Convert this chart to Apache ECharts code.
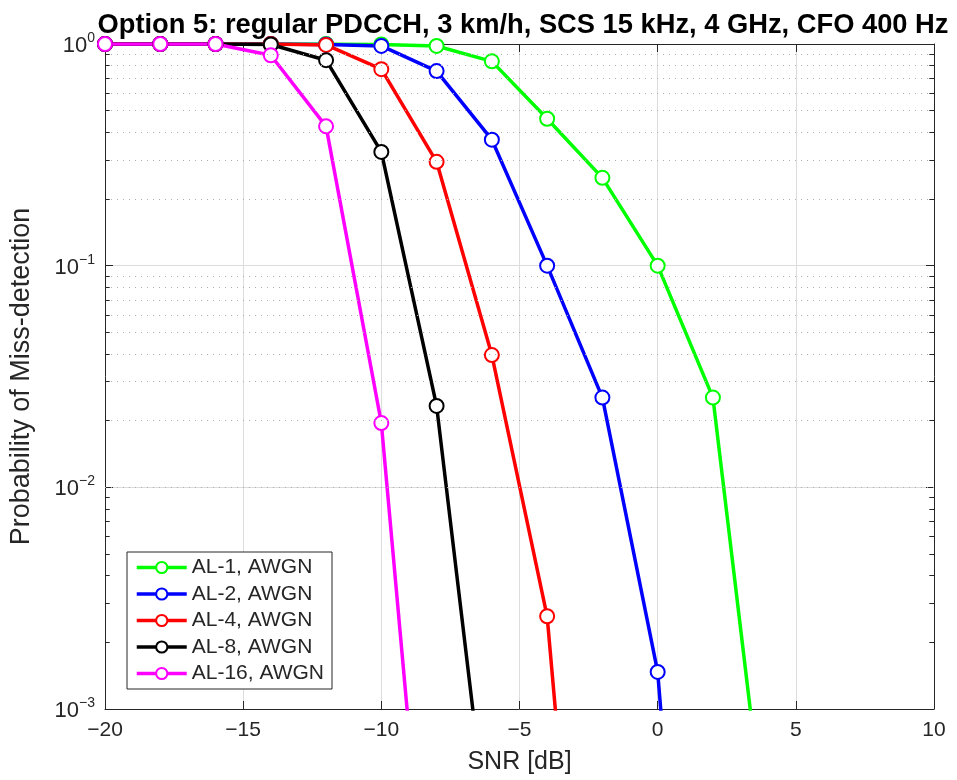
<!DOCTYPE html>
<html>
<head>
<meta charset="utf-8">
<script src="https://cdn.jsdelivr.net/npm/echarts@6/dist/echarts.min.js"></script>
<style>html,body{margin:0;padding:0;background:#fff;}#c{width:957px;height:780px;}</style>
</head>
<body>
<div id="c"></div>
<script>
const titleText = 'Option 5: regular PDCCH, 3 km/h, SCS 15 kHz, 4 GHz, CFO 400 Hz';
const snr = [-20, -18, -16, -14, -12, -10, -8, -6, -4, -2, 0, 2, 4];
const al1 = [1, 1, 1, 1, 1, 0.995, 0.98, 0.835, 0.46, 0.249, 0.1, 0.0254, 0.00021];
const al2 = [1, 1, 1, 1, 0.995, 0.98, 0.755, 0.37, 0.1, 0.0254, 0.00147, 0.0000013, null];
const al4 = [1, 1, 1, 1, 0.99, 0.77, 0.294, 0.0395, 0.00262, 0.0000039, null, null, null];
const al8 = [1, 1, 1, 0.995, 0.845, 0.326, 0.0233, 0.00019, null, null, null, null, null];
const al16 = [1, 1, 1, 0.89, 0.425, 0.0195, 0.000033, null, null, null, null, null, null];
const seriesNames = ['AL-1, AWGN', 'AL-2, AWGN', 'AL-4, AWGN', 'AL-8, AWGN', 'AL-16, AWGN'];
const seriesColors = ['#00ff00', '#0000ff', '#ff0000', '#000000', '#ff00ff'];
const decades = [0.001, 0.01, 0.1];
const minorFactors = [2, 3, 4, 5, 6, 7, 8, 9];

const allVals = [al1, al2, al4, al8, al16];
const axisColor = '#262626';
const font = 'Liberation Sans, Arial, sans-serif';
const X_MIN = -20, X_MAX = 10, MINOR_TICK_DB = 0.17;

function pairs(vals) {
  const out = [];
  vals.forEach((v, i) => { if (v !== null) out.push([snr[i], v]); });
  return out;
}

const minorLines = [];
const minorTicks = [];
decades.forEach(d => minorFactors.forEach(f => {
  const v = d * f;
  minorLines.push({ yAxis: v });
  minorTicks.push([{ coord: [X_MIN, v] }, { coord: [X_MIN + MINOR_TICK_DB, v] }]);
  minorTicks.push([{ coord: [X_MAX - MINOR_TICK_DB, v] }, { coord: [X_MAX, v] }]);
}));

const series = allVals.map((vals, i) => ({
  name: seriesNames[i],
  type: 'line',
  data: pairs(vals),
  color: seriesColors[i],
  symbol: 'emptyCircle',
  symbolSize: 14,
  showAllSymbol: true,
  lineStyle: { width: 3.5, color: seriesColors[i] },
  itemStyle: { color: seriesColors[i], borderColor: seriesColors[i], borderWidth: 2 },
  clip: true,
  z: 3,
  animation: false
}));

series.unshift({
  name: 'minorGrid',
  type: 'line',
  data: [],
  z: 1,
  silent: true,
  animation: false,
  markLine: {
    silent: true,
    symbol: 'none',
    animation: false,
    label: { show: false },
    lineStyle: { type: [1, 5], color: '#b0b0b0', width: 1 },
    data: minorLines
  }
}, {
  name: 'minorTicks',
  type: 'line',
  data: [],
  z: 2,
  silent: true,
  animation: false,
  markLine: {
    silent: true,
    symbol: 'none',
    animation: false,
    label: { show: false },
    lineStyle: { type: 'solid', color: axisColor, width: 1 },
    data: minorTicks
  }
});

const chart = echarts.init(document.getElementById('c'), null, { renderer: 'canvas' });
chart.setOption({
  backgroundColor: '#ffffff',
  animation: false,
  textStyle: { fontFamily: font },
  title: {
    text: titleText,
    left: 518,
    textAlign: 'center',
    top: 7,
    textStyle: { fontFamily: font, fontWeight: 'bold', fontSize: 27.3, color: '#000' }
  },
  grid: { left: 105, right: 23, top: 44, bottom: 70, containLabel: false },
  legend: {
    data: seriesNames,
    orient: 'vertical',
    left: 127,
    top: 552,
    padding: [5, 8, 5, 8],
    itemWidth: 50,
    itemHeight: 14,
    itemGap: 5.5,
    backgroundColor: '#ffffff',
    borderColor: axisColor,
    borderWidth: 1,
    borderRadius: 0,
    lineStyle: { width: 3.5 },
    textStyle: { fontSize: 21, lineHeight: 21, color: axisColor, fontFamily: font }
  },
  xAxis: [{
    type: 'value',
    min: X_MIN, max: X_MAX, interval: 5,
    name: 'SNR [dB]',
    nameLocation: 'middle',
    nameGap: 41,
    nameTextStyle: { fontSize: 25, color: axisColor, fontFamily: font },
    axisLine: { show: true, onZero: false, lineStyle: { color: axisColor, width: 1 } },
    axisTick: { show: true, inside: true, length: 8, lineStyle: { color: axisColor } },
    axisLabel: { fontSize: 21, color: axisColor, margin: 11, formatter: v => String(v).replace('-', '\u2212') },
    splitLine: { show: true, lineStyle: { color: '#dcdcdc', width: 1 } }
  }, {
    type: 'value', position: 'top',
    min: X_MIN, max: X_MAX, interval: 5,
    axisLine: { show: true, onZero: false, lineStyle: { color: axisColor, width: 1 } },
    axisTick: { show: true, inside: true, length: 8, lineStyle: { color: axisColor } },
    axisLabel: { show: false },
    splitLine: { show: false }
  }],
  yAxis: [{
    type: 'log', logBase: 10,
    min: 0.001, max: 1,
    name: 'Probability of Miss-detection',
    nameLocation: 'middle',
    nameGap: 70,
    nameRotate: 90,
    nameTextStyle: { fontSize: 27, color: axisColor, fontFamily: font },
    axisLine: { show: true, onZero: false, lineStyle: { color: axisColor, width: 1 } },
    axisTick: { show: true, inside: true, length: 8, lineStyle: { color: axisColor } },
    axisLabel: {
      margin: 10,
      formatter: v => {
        const e = Math.round(Math.log10(v));
        return '{b|10}{s|' + (e === 0 ? '0' : '\u2212' + (-e)) + '}';
      },
      rich: {
        b: { fontSize: 22, color: axisColor, fontFamily: font, lineHeight: 26, verticalAlign: 'bottom' },
        s: { fontSize: 14, color: axisColor, fontFamily: font, lineHeight: 26, verticalAlign: 'top' }
      }
    },
    splitLine: { show: true, lineStyle: { color: '#dcdcdc', width: 1 } }
  }, {
    type: 'log', logBase: 10, position: 'right',
    min: 0.001, max: 1,
    axisLine: { show: true, onZero: false, lineStyle: { color: axisColor, width: 1 } },
    axisTick: { show: true, inside: true, length: 8, lineStyle: { color: axisColor } },
    axisLabel: { show: false },
    splitLine: { show: false }
  }],
  series: series
});
</script>
</body>
</html>
